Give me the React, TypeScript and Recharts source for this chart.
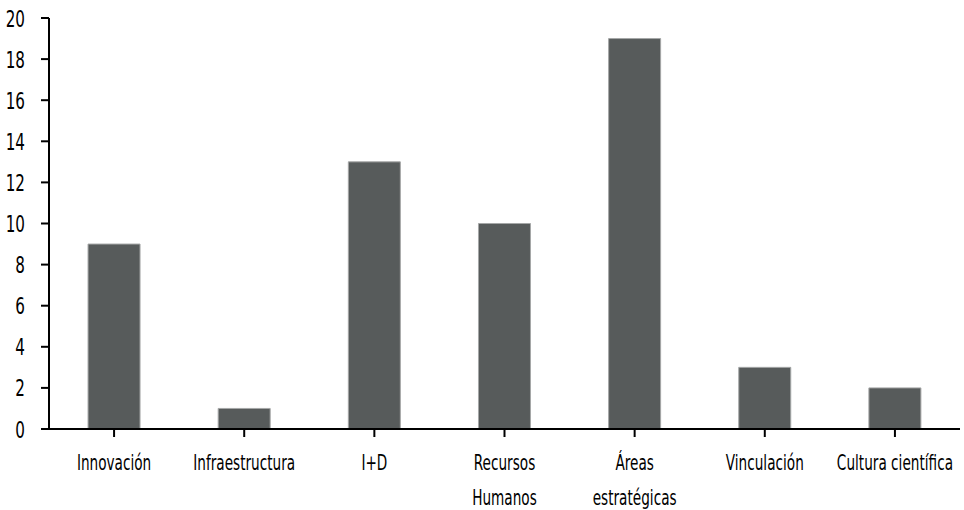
import React from "react";
import { BarChart, Bar, XAxis, YAxis } from "recharts";

const categories = ["Innovación", "Infraestructura", "I+D", "Recursos Humanos", "Áreas estratégicas", "Vinculación", "Cultura científica"];
const values = [9, 1, 13, 10, 19, 3, 2];
const yTicks = [0, 2, 4, 6, 8, 10, 12, 14, 16, 18, 20];
const labelLines: Record<string, string[]> = {
  "Recursos Humanos": ["Recursos", "Humanos"],
  "Áreas estratégicas": ["Áreas", "estratégicas"],
};

const data = categories.map((c, i) => ({ name: c, value: values[i] }));
const FONT = "'DejaVu Sans', sans-serif";

const XTick = (props: any) => {
  const { x, y, payload } = props;
  const lines = labelLines[payload.value] || [payload.value];
  return (
    <g transform={`translate(${x},${y}) scale(0.62,1)`}>
      <text textAnchor="middle" fill="#000" fontFamily={FONT} fontSize={22}>
        {lines.map((l: string, i: number) => (
          <tspan key={i} x={0} y={31 + i * 35}>{l}</tspan>
        ))}
      </text>
    </g>
  );
};

const YTick = (props: any) => {
  const { x, y, payload } = props;
  return (
    <g transform={`translate(${x},${y}) scale(0.66,1)`}>
      <text textAnchor="end" fill="#000" fontFamily={FONT} fontSize={23} x={0} y={8.5}>
        {payload.value}
      </text>
    </g>
  );
};

export default function App() {
  return (
    <div style={{ position: "absolute", left: 0, top: 0, background: "#fff" }}>
      <BarChart width={964} height={510} data={data} margin={{ top: 18, right: 4, bottom: 0, left: 0 }} barCategoryGap="30%">
        <XAxis
          dataKey="name"
          interval={0}
          height={81}
          tick={<XTick />}
          axisLine={{ stroke: "#000", strokeWidth: 2 }}
          tickLine={{ stroke: "#000", strokeWidth: 2 }}
          tickSize={8}
          tickMargin={2}
        />
        <YAxis
          width={49}
          domain={[0, 20]}
          ticks={yTicks}
          interval={0}
          tick={<YTick />}
          axisLine={{ stroke: "#000", strokeWidth: 2 }}
          tickLine={{ stroke: "#000", strokeWidth: 2 }}
          tickSize={8}
          tickMargin={16}
        />
        <Bar dataKey="value" fill="#575b5b" stroke="#a5a7a7" strokeWidth={1} isAnimationActive={false} />
      </BarChart>
    </div>
  );
}
